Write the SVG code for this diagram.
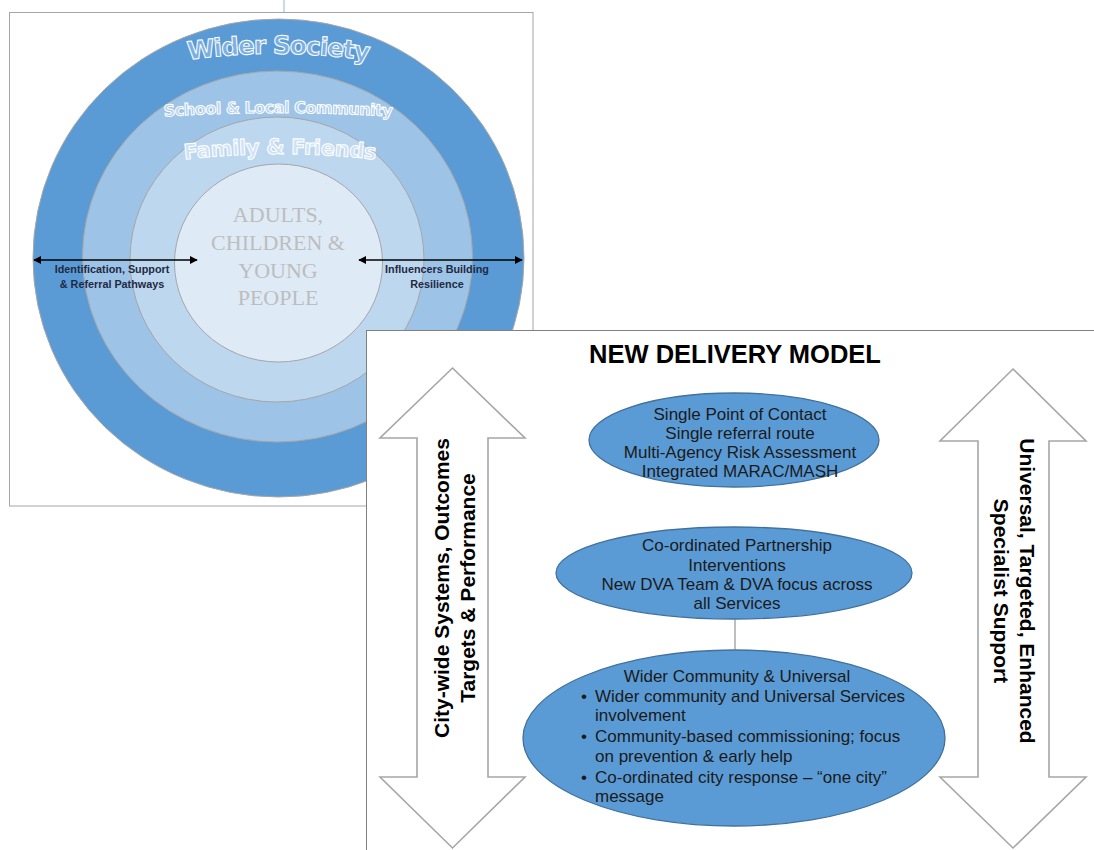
<svg xmlns="http://www.w3.org/2000/svg" width="1094" height="850" viewBox="0 0 1094 850">
<style>
.ring{stroke:#A6A6A6;stroke-width:1}
.arc{font-family:"DejaVu Sans","Liberation Sans",sans-serif;font-weight:bold;stroke:#ffffff;stroke-width:1}
.inner{font-family:"Liberation Serif",serif;font-size:22px;fill:#BDBDBD;text-anchor:middle}
.lbl{font-family:"Liberation Sans",Arial,sans-serif;font-weight:bold;font-size:10.8px;fill:#1F2A44;text-anchor:middle}
.ell{fill:#5B9BD5;stroke:#41719C;stroke-width:1.3}
.et{font-family:"Liberation Sans",Arial,sans-serif;font-size:17px;fill:#1a1a1a}
.mid{text-anchor:middle}
.big{fill:#ffffff;stroke:#A6A6A6;stroke-width:1.6}
.side{font-family:"Liberation Sans",Arial,sans-serif;font-weight:bold;font-size:21px;fill:#000;text-anchor:middle}
.blk{stroke:#000;stroke-width:1.6;fill:none}
</style>
<defs>
<marker id="ah" viewBox="0 0 10 10" refX="9" refY="5" markerWidth="5" markerHeight="5" orient="auto-start-reverse">
<path d="M0,0 L10,5 L0,10 Z" fill="#000"/>
</marker>
<path id="p1" d="M180,61 Q278,46 376,62"/>
<path id="p2" d="M155,117 Q278,109 401,117"/>
<path id="p3" d="M180,160 Q280,148 380,160"/>
</defs>
<rect width="1094" height="850" fill="#ffffff"/>

<g id="left-panel">
<line x1="284" y1="0" x2="284" y2="16" stroke="#8EB4E3" stroke-width="1"/>
<rect x="9.5" y="12.5" width="523.5" height="493.5" fill="#ffffff" stroke="#A6A6A6" stroke-width="1"/>
<g id="ring-wider-society">
<ellipse class="ring" cx="278.5" cy="258" rx="245.5" ry="239" fill="#5B9BD5"/>
<text class="arc" font-size="25" letter-spacing="-1.2" fill="#7DAFE0"><textPath href="#p1" startOffset="50%" text-anchor="middle">Wider Society</textPath></text>
</g>
<g id="ring-school">
<ellipse class="ring" cx="277.5" cy="256.5" rx="195" ry="185.5" fill="#9DC3E6"/>
<text class="arc" font-size="16" letter-spacing="-0.5" fill="#B2CFEE"><textPath href="#p2" startOffset="50%" text-anchor="middle">School &amp; Local Community</textPath></text>
</g>
<g id="ring-family">
<ellipse class="ring" cx="277" cy="259.5" rx="147" ry="142.5" fill="#BDD7EE"/>
<text class="arc" font-size="21" letter-spacing="-0.4" fill="#CFE2F4"><textPath href="#p3" startOffset="50%" text-anchor="middle">Family &amp; Friends</textPath></text>
</g>
<g id="core">
<ellipse class="ring" cx="278.5" cy="263" rx="104" ry="99" fill="#DEEBF7"/>
<text class="inner" x="278" y="222">ADULTS,</text>
<text class="inner" x="278" y="250">CHILDREN &amp;</text>
<text class="inner" x="278" y="278">YOUNG</text>
<text class="inner" x="278" y="305">PEOPLE</text>
</g>
<g id="label-left">
<text class="lbl" x="112" y="273">Identification, Support</text>
<text class="lbl" x="112" y="288">&amp; Referral Pathways</text>
</g>
<g id="label-right">
<text class="lbl" x="437" y="273">Influencers Building</text>
<text class="lbl" x="437" y="288">Resilience</text>
</g>
</g>

<g id="right-panel">
<rect x="366.5" y="330.5" width="740" height="530" fill="#ffffff" stroke="#808080" stroke-width="1"/>
<text id="title" x="735" y="363" font-family="Liberation Sans,Arial,sans-serif" font-weight="bold" font-size="25.5" text-anchor="middle" fill="#000">NEW DELIVERY MODEL</text>

<g id="arrow-left">
<path class="big" d="M452.5,368 L525,438 L488,438 L488,777 L525,777 L452.5,848 L380,777 L417,777 L417,438 L380,438 Z"/>
<text class="side" transform="translate(449,588) rotate(-90)">City-wide Systems, Outcomes</text>
<text class="side" transform="translate(475,588) rotate(-90)">Targets &amp; Performance</text>
</g>
<g id="arrow-right">
<path class="big" d="M1013,369 L1086,441 L1049,441 L1049,777 L1086,777 L1013,848 L940,777 L978,777 L978,441 L940,441 Z"/>
<text class="side" transform="translate(1020,591) rotate(90)">Universal, Targeted, Enhanced</text>
<text class="side" transform="translate(994,591) rotate(90)">Specialist Support</text>
</g>

<g id="node-spoc">
<ellipse class="ell" cx="734" cy="440" rx="145" ry="47"/>
<text class="et mid" x="740" y="420">Single Point of Contact</text>
<text class="et mid" x="740" y="439">Single referral route</text>
<text class="et mid" x="740" y="458">Multi-Agency Risk Assessment</text>
<text class="et mid" x="740" y="477">Integrated MARAC/MASH</text>
</g>
<g id="node-partnership">
<ellipse class="ell" cx="734" cy="573" rx="178" ry="46"/>
<text class="et mid" x="737" y="551">Co-ordinated Partnership</text>
<text class="et mid" x="737" y="571">Interventions</text>
<text class="et mid" x="737" y="590">New DVA Team &amp; DVA focus across</text>
<text class="et mid" x="737" y="609">all Services</text>
</g>
<g id="node-community">
<ellipse class="ell" cx="734" cy="738" rx="211" ry="88"/>
<text class="et mid" x="737" y="682">Wider Community &amp; Universal</text>
<text class="et" x="581" y="702">•</text><text class="et" x="595" y="702">Wider community and Universal Services</text>
<text class="et" x="595" y="721">involvement</text>
<text class="et" x="581" y="742">•</text><text class="et" x="595" y="742">Community-based commissioning; focus</text>
<text class="et" x="595" y="762">on prevention &amp; early help</text>
<text class="et" x="581" y="783">•</text><text class="et" x="595" y="783">Co-ordinated city response – “one city”</text>
<text class="et" x="595" y="802">message</text>
</g>
</g>

<g id="connectors">
<line class="blk" x1="34" y1="260" x2="197" y2="260" marker-start="url(#ah)" marker-end="url(#ah)"/>
<line class="blk" x1="359" y1="260" x2="522" y2="260" marker-start="url(#ah)" marker-end="url(#ah)"/>
<line x1="735" y1="619" x2="735" y2="650" stroke="#7F7F7F" stroke-width="1"/>
</g>
</svg>
